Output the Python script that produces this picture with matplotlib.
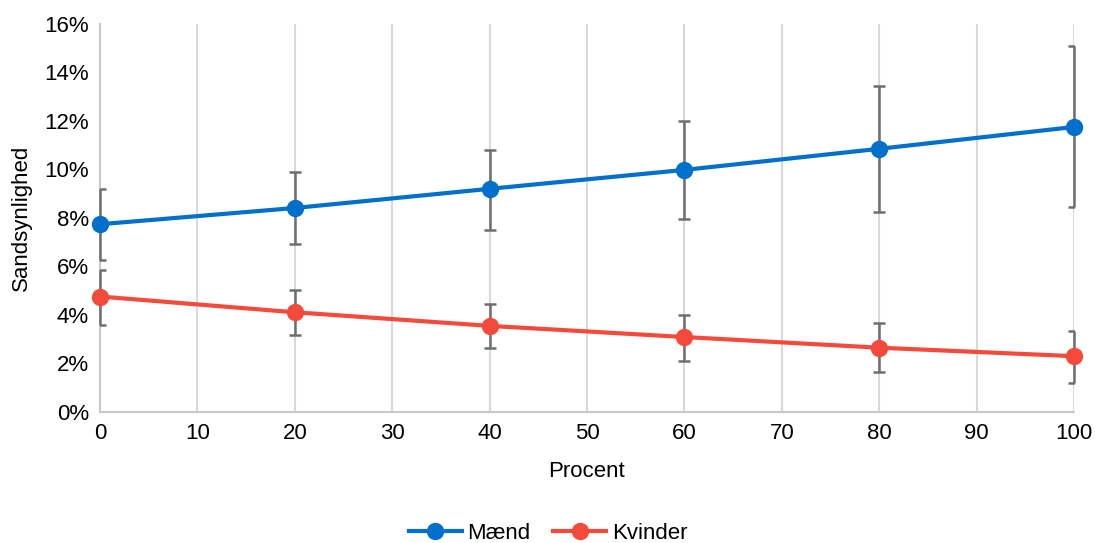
import matplotlib.pyplot as plt
from matplotlib.ticker import FuncFormatter

plt.rcParams['font.family'] = ['Liberation Sans', 'DejaVu Sans']

procent = [0, 20, 40, 60, 80, 100]

maend = [7.74, 8.41, 9.20, 9.98, 10.85, 11.75]
maend_low = [6.28, 6.94, 7.51, 7.96, 8.23, 8.44]
maend_high = [9.20, 9.88, 10.80, 12.00, 13.43, 15.07]

kvinder = [4.76, 4.11, 3.55, 3.09, 2.65, 2.30]
kvinder_low = [3.60, 3.16, 2.64, 2.10, 1.64, 1.21]
kvinder_high = [5.87, 5.03, 4.45, 4.00, 3.67, 3.35]

blue = '#0070CC'
red = '#F44A3C'
err_col = '#6E6E6E'

fig = plt.figure(figsize=(10.96, 5.43), dpi=100)
ax = fig.add_axes([0.0912, 0.2413, 0.8887, 0.7147])

for vals, lo, hi, col, name in [
    (maend, maend_low, maend_high, blue, 'Mænd'),
    (kvinder, kvinder_low, kvinder_high, red, 'Kvinder'),
]:
    yerr = [[v - l for v, l in zip(vals, lo)], [h - v for v, h in zip(vals, hi)]]
    eb = ax.errorbar(procent, vals, yerr=yerr, fmt='none', ecolor=err_col,
                     elinewidth=1.8, capsize=4.5, capthick=1.8, zorder=2.6)
    # vertical bars drawn over the spine, caps still clipped at the edges
    for bl in eb[2]:
        bl.set_clip_on(False)
    ax.plot(procent, vals, color=col, lw=3, marker='o', markersize=11.5,
            label=name, clip_on=False, zorder=3)

ax.set_xlim(0, 100)
ax.set_ylim(0, 16)
ax.set_xticks(range(0, 101, 10))
ax.set_yticks(range(0, 17, 2))
ax.yaxis.set_major_formatter(FuncFormatter(lambda v, p: f'{v:.0f}%'))
ax.grid(axis='x', color='#D9D9D9', lw=1.5)
ax.set_axisbelow(True)
for s in ['top', 'right']:
    ax.spines[s].set_visible(False)
for s in ['left', 'bottom']:
    ax.spines[s].set_color('#C8C8C8')
    ax.spines[s].set_linewidth(1.5)
ax.tick_params(length=0, labelsize=16, pad=8)

ax.set_xlabel('Procent', fontsize=16, labelpad=12)
ax.set_ylabel('Sandsynlighed', fontsize=16, labelpad=9)

fig.legend(loc='center', bbox_to_anchor=(0.5, 0.018), ncol=2, frameon=False,
           fontsize=16, handlelength=2.4, columnspacing=1.0, handletextpad=0.25)

fig.savefig('out.png', dpi=100)
